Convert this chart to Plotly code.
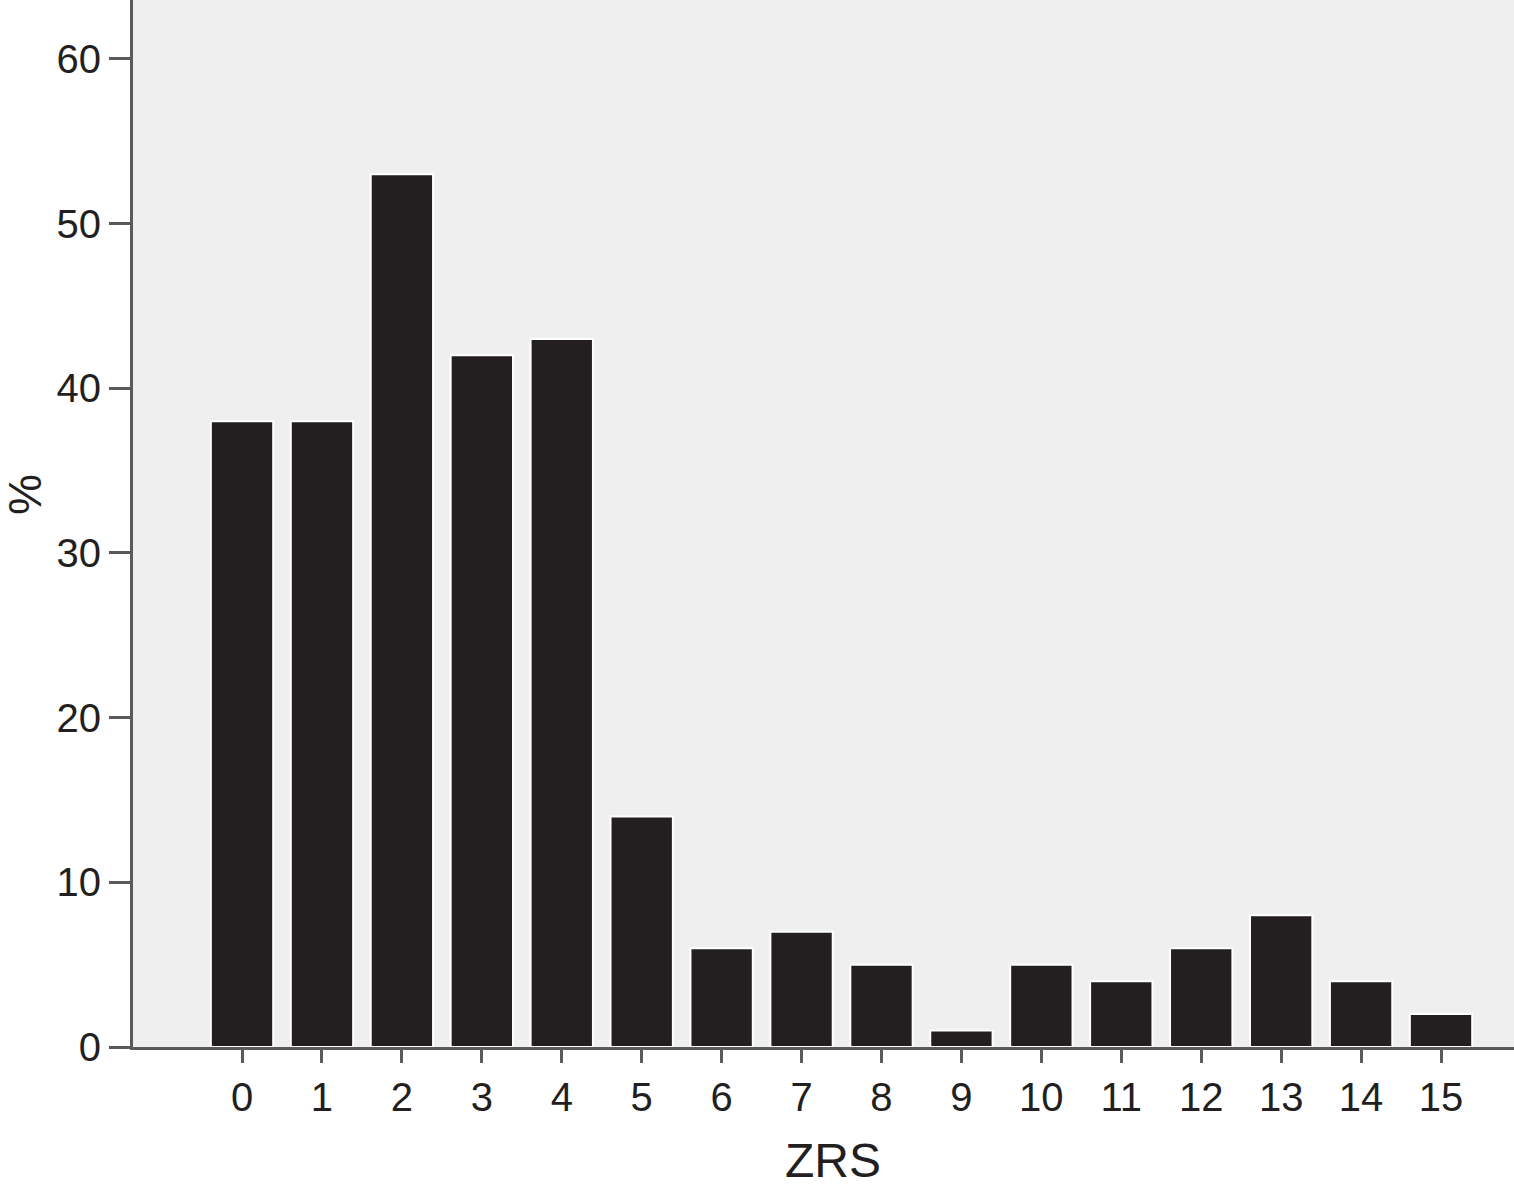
import plotly.graph_objects as go

categories = list(range(16))
values = [38, 38, 53, 42, 43, 14, 6, 7, 5, 1, 5, 4, 6, 8, 4, 2]
y_ticks = [0, 10, 20, 30, 40, 50, 60]
x_title = "ZRS"
y_title = "%"

W, H = 1514, 1201
L, R, T, B = 133, 0, 0, 154
pw, ph = W - L - R, H - T - B

axis_col = "#5a5a5a"
txt_col = "#231f20"
font_family = "Liberation Sans, Arial, sans-serif"

fig = go.Figure(go.Bar(
    x=categories, y=values, width=0.78,
    marker=dict(color="#231f20", line=dict(color="white", width=2)),
))

fig.update_layout(
    width=W, height=H,
    margin=dict(l=L, r=R, t=T, b=B, pad=0),
    paper_bgcolor="white", plot_bgcolor="#efefef",
    showlegend=False,
    font=dict(family=font_family, color=txt_col, size=40),
    annotations=[
        dict(text=x_title, xref="paper", yref="paper",
             x=(833 - L) / pw, y=-(1160 - (H - B)) / ph,
             xanchor="center", yanchor="middle", showarrow=False,
             font=dict(size=48, color=txt_col, family=font_family)),
        dict(text=y_title, xref="paper", yref="paper",
             x=(25 - L) / pw, y=((H - B) - 495) / ph,
             xanchor="center", yanchor="middle", showarrow=False, textangle=-90,
             font=dict(size=46, color=txt_col, family=font_family)),
    ],
)

fig.update_xaxes(
    range=[-1.364, 15.913], tickmode="array", tickvals=categories,
    ticktext=[str(c) for c in categories],
    showline=True, linecolor=axis_col, linewidth=3,
    ticks="outside", ticklen=13, tickwidth=3, tickcolor=axis_col,
    showgrid=False, zeroline=False,
    tickfont=dict(size=40, color=txt_col),
)
fig.update_yaxes(
    range=[0, 63.58], tickmode="array", tickvals=y_ticks,
    showline=True, linecolor=axis_col, linewidth=3,
    ticks="outside", ticklen=21, tickwidth=3, tickcolor=axis_col,
    showgrid=False, zeroline=False,
    tickfont=dict(size=40, color=txt_col),
)

fig.write_html(
    "out.html",
    config={"displayModeBar": False, "staticPlot": True},
    post_script="document.body.style.margin='0';document.body.style.overflow='hidden';",
)
